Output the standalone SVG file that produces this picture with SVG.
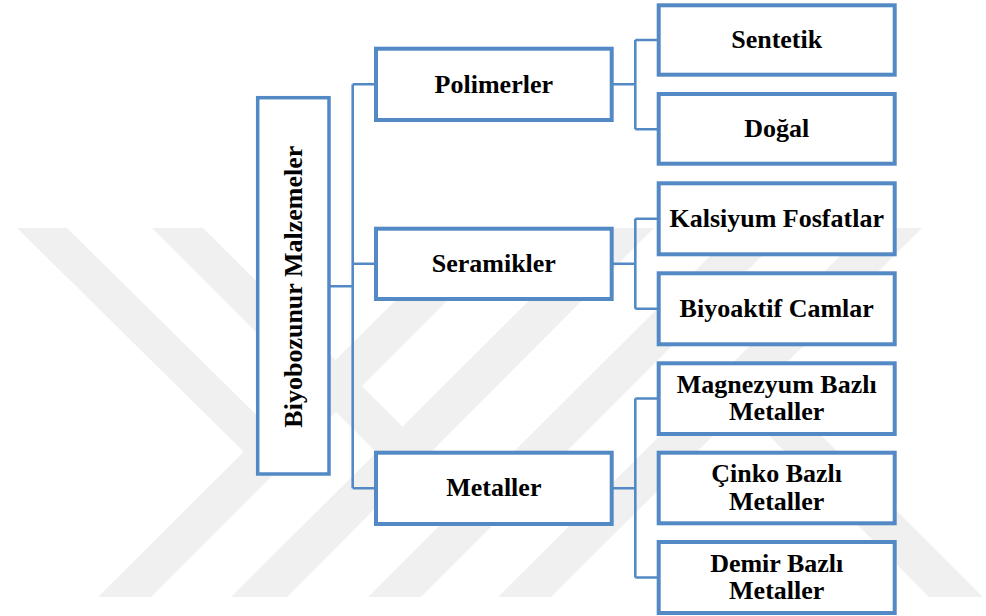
<svg xmlns="http://www.w3.org/2000/svg" width="986" height="616" viewBox="0 0 986 616">
<style>
.wm{fill:#f0f0f0;stroke:none}
.box{fill:#ffffff;stroke:#5389c4;stroke-width:4}
.root{fill:#ffffff;stroke:#5389c4;stroke-width:3.5}
.con{fill:none;stroke:#5389c4;stroke-width:2.6}
.t{font-family:"Liberation Serif","Times New Roman",serif;font-weight:bold;font-size:26px;fill:#000000;text-anchor:middle}
</style>
<rect width="986" height="616" fill="#ffffff"/>
<g id="watermark">
<polygon class="wm" points="17,228 67,228 295,453 245,453"/>
<polygon class="wm" points="152,228 203,228 429,453 377,453"/>
<polygon class="wm" points="468,228 520,228 151,597 98,597"/>
<polygon class="wm" points="602,228 654,228 287,597 231,597"/>
<polygon class="wm" points="738,228 790,228 421,597 368,597"/>
<polygon class="wm" points="868,228 922,228 551,597 498,597"/>
<polygon class="wm" points="715,381 767,381 983,597 929,597"/>
</g>
<g id="connectors">
<path class="con" d="M329,286.3 H352.7 M352.7,84.3 V488.3 M352.7,84.3 H376 M352.7,263.8 H376 M352.7,488.3 H376"/>
<path class="con" d="M611.7,84.3 H635.3 M635.3,40 V129.2 M635.3,40 H658.7 M635.3,129.2 H658.7"/>
<path class="con" d="M611.7,263.8 H635.3 M635.3,218.8 V308.8 M635.3,218.8 H658.7 M635.3,308.8 H658.7"/>
<path class="con" d="M611.7,488.3 H635.3 M635.3,398.5 V577.5 M635.3,398.5 H658.7 M635.3,577.5 H658.7"/>
</g>
<g id="root">
<rect class="root" x="257.7" y="97.7" width="71.3" height="376.3"/>
<text class="t" transform="translate(301.5,286.7) rotate(-90)" x="0" y="0">Biyobozunur Malzemeler</text>
</g>
<g id="polimerler">
<rect class="box" x="376" y="48.7" width="235.7" height="71.3"/>
<text class="t" x="493.8" y="92.5">Polimerler</text>
</g>
<g id="seramikler">
<rect class="box" x="376" y="228.7" width="235.7" height="70.3"/>
<text class="t" x="493.8" y="271.8">Seramikler</text>
</g>
<g id="metaller">
<rect class="box" x="376" y="452.7" width="235.7" height="71.3"/>
<text class="t" x="493.8" y="496">Metaller</text>
</g>
<g id="sentetik">
<rect class="box" x="658.7" y="5.3" width="236" height="69.4"/>
<text class="t" x="776.7" y="47.8">Sentetik</text>
</g>
<g id="dogal">
<rect class="box" x="658.7" y="94" width="236" height="69.7"/>
<text class="t" x="776.7" y="136.8">Doğal</text>
</g>
<g id="kalsiyum">
<rect class="box" x="658.7" y="183.3" width="236" height="71"/>
<text class="t" x="776.7" y="226.7">Kalsiyum Fosfatlar</text>
</g>
<g id="biyoaktif">
<rect class="box" x="658.7" y="273.3" width="236" height="71"/>
<text class="t" x="776.7" y="316.7">Biyoaktif Camlar</text>
</g>
<g id="magnezyum">
<rect class="box" x="658.7" y="363.3" width="236" height="70.7"/>
<text class="t" x="776.7" y="393.3">Magnezyum Bazlı</text>
<text class="t" x="776.7" y="420.3">Metaller</text>
</g>
<g id="cinko">
<rect class="box" x="658.7" y="452.7" width="236" height="70.6"/>
<text class="t" x="776.7" y="482">Çinko Bazlı</text>
<text class="t" x="776.7" y="509.5">Metaller</text>
</g>
<g id="demir">
<rect class="box" x="658.7" y="542" width="236" height="71"/>
<text class="t" x="776.7" y="571.7">Demir Bazlı</text>
<text class="t" x="776.7" y="599.3">Metaller</text>
</g>
</svg>
